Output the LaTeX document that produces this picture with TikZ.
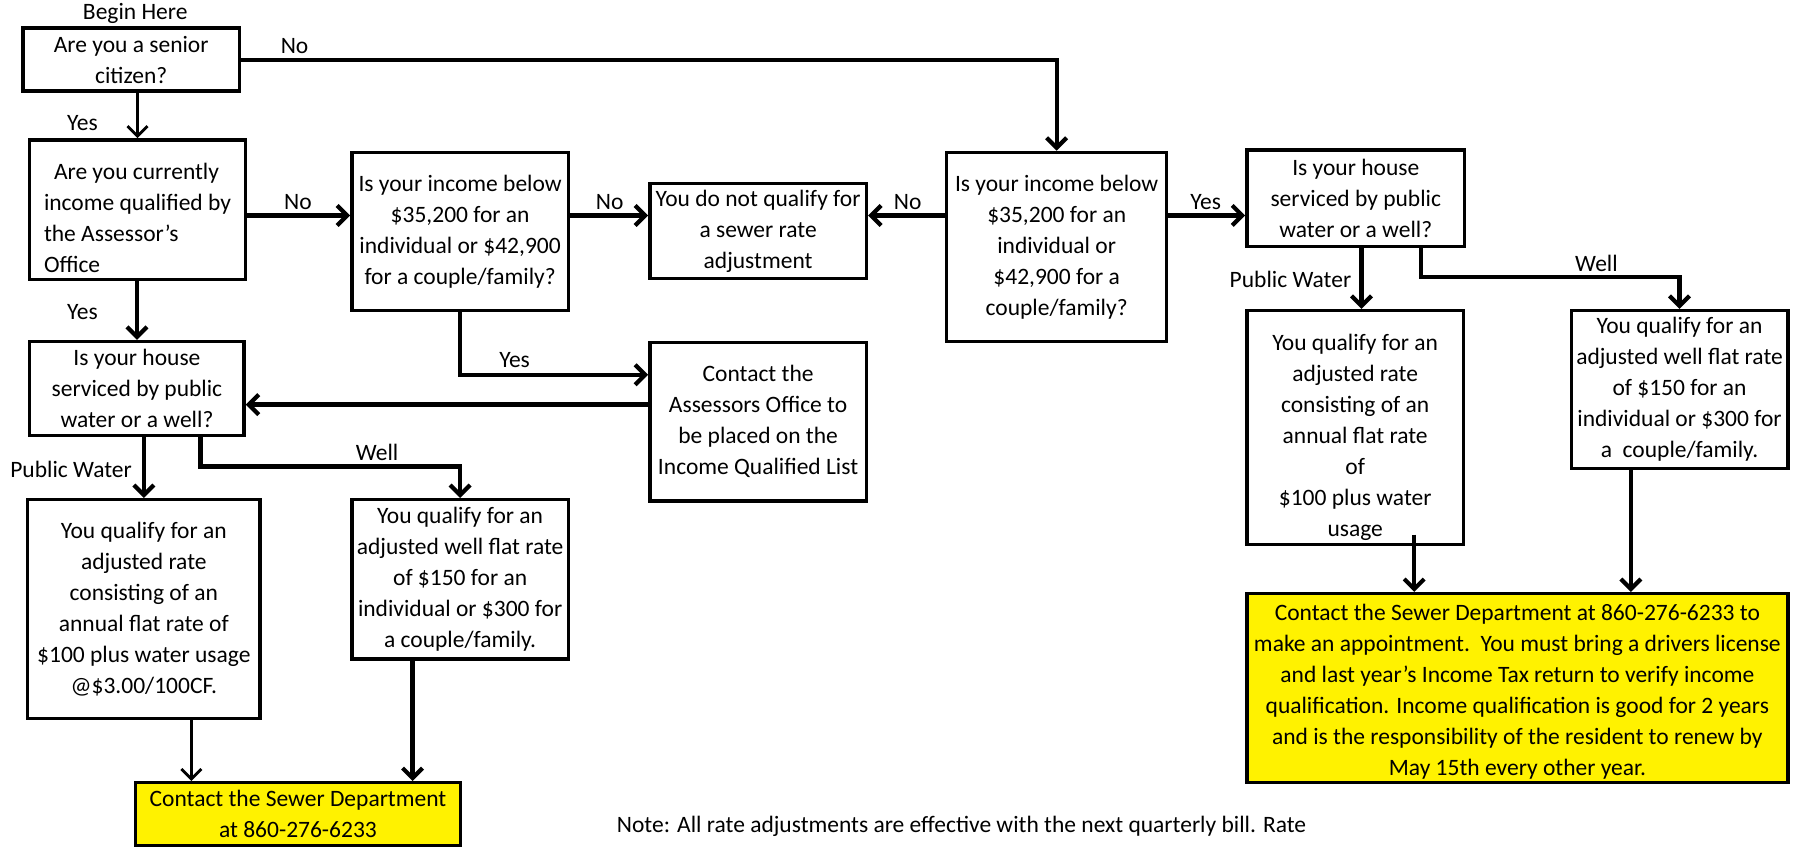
\documentclass[tikz,border=0pt]{standalone}
\usepackage{fontspec}
\setmainfont{Carlito}
\usetikzlibrary{arrows.meta,calc}

\newcommand{\topgap}[1]{\rule{0pt}{#1}}

\begin{document}
\begin{tikzpicture}[x=0.57302pt,y=-0.57302pt,
    every node/.style={font=\fontsize{11.75pt}{15.5pt}\selectfont,inner sep=0pt},
    box/.style={draw,line width=1.7pt,align=center},
    hl/.style={box,fill=yellow},
    sz/.style 2 args={minimum width=#1*0.57302pt,minimum height=#2*0.57302pt},
    link/.style={line width=2.1pt},
    arr/.style={link,-{Straight Barb[length=5pt,width=10pt]}},
    thinarr/.style={arr,line width=1.4pt}]

    \useasboundingbox (0,0) rectangle (1568,741);

    %==================== Senior branch (left) ====================
    \node (begin) at (118,12) {Begin Here};
    \node[box,sz={189}{55}] (senior) at (114.5,52) {Are you a senior\\citizen?};
    \node[box,sz={188}{122},align=left] (qualified) at (120,183)
      {\topgap{16pt}\hspace*{5pt}Are you currently\\income qualified by\\the Assessor’s\\Office};
    \node[box,sz={189}{138}] (incomeC) at (401.5,202)
      {Is your income below\\\$35,200 for an\\individual or \$42,900\\for a couple/family?};
    \node[box,sz={189}{83}] (noqual) at (661.5,201.5)
      {You do not qualify for\\a sewer rate\\adjustment};
    \node[box,sz={189}{138}] (contactA) at (661.5,368)
      {Contact the\\Assessors Office to\\be placed on the\\Income Qualified List};
    \node[box,sz={187}{82}] (houseL) at (119.5,339)
      {Is your house\\serviced by public\\water or a well?};
    \node[box,sz={203}{191}] (pubL) at (125.5,531.5)
      {You qualify for an\\adjusted rate\\consisting of an\\annual flat rate of\\\$100 plus water usage\\@\$3.00/100CF.};
    \node[box,sz={189}{139}] (wellL) at (401.5,505.5)
      {You qualify for an\\adjusted well flat rate\\of \$150 for an\\individual or \$300 for\\a couple/family.};
    \node[hl,sz={284}{55}] (contactS) at (260,710.5)
      {Contact the Sewer Department\\at 860-276-6233};

    %==================== Non-senior branch (right) ====================
    \node[box,sz={192}{165}] (incomeD) at (922,215.5)
      {Is your income below\\\$35,200 for an\\individual or\\\$42,900 for a\\couple/family?};
    \node[box,sz={190}{84}] (houseR) at (1183,173)
      {Is your house\\serviced by public\\water or a well?};
    \node[box,sz={189}{204}] (pubR) at (1182.5,373)
      {\topgap{18pt}You qualify for an\\adjusted rate\\consisting of an\\annual flat rate\\of\\\$100 plus water\\usage};
    \node[box,sz={189}{138}] (wellR) at (1465.5,340)
      {You qualify for an\\adjusted well flat rate\\of \$150 for an\\individual or \$300 for\\a\ \ couple/family.};
    \node[hl,sz={472}{165}] (bigY) at (1324,600.5)
      {\topgap{12pt}Contact the Sewer Department at 860-276-6233 to\\make an appointment.\ \ You must bring a drivers license\\and last year’s Income Tax return to verify income\\qualification. Income qualification is good for 2 years\\and is the responsibility of the resident to renew by\\May 15th every other year.};

    \node (note) at (839,721)
      {Note: All rate adjustments are effective with the next quarterly bill. Rate};

    % Rows of the connectors
    \coordinate (rowNo) at (0,188);
    \coordinate (rowYes) at (0,327);
    \coordinate (rowBack) at (0,353);
    \coordinate (rowWellL) at (0,407);
    \coordinate (rowWellR) at (0,242);

    % Connectors, left
    \draw[thinarr] (senior.south -| qualified.north) -- (qualified.north);
    \draw[link] (senior.east) -| ($(incomeD.north)+(0,-40)$) coordinate (c1);
    \draw[arr] (c1) -- (incomeD.north);
    \draw[arr] (qualified.east |- rowNo) -- (incomeC.west |- rowNo);
    \draw[arr] (incomeC.east |- rowNo) -- (noqual.west |- rowNo);
    \draw[arr] (incomeC.south) |- (contactA.west |- rowYes);
    \draw[arr] (contactA.west |- rowBack) -- (houseL.east |- rowBack);
    \draw[arr] (qualified.south -| houseL.north) -- (houseL.north);
    \draw[arr] (houseL.south -| pubL.north) -- (pubL.north);
    \draw[arr] ($(houseL.south)+(55.5,0)$) |- (rowWellL -| wellL.north) -- (wellL.north);
    \draw[thinarr] ($(pubL.south)+(41.5,0)$) coordinate (p1) -- (p1 |- contactS.north);
    \draw[arr] ($(wellL.south)+(-41.5,0)$) coordinate (p2) -- (p2 |- contactS.north);

    % Connectors, right
    \draw[arr] (incomeD.west |- rowNo) -- (noqual.east |- rowNo);
    \draw[arr] (incomeD.east |- rowNo) -- (houseR.west |- rowNo);
    \draw[arr] ($(houseR.south)+(5,0)$) coordinate (p3) -- (p3 |- pubR.north);
    \draw[arr] ($(houseR.south)+(57,0)$) |- (rowWellR -| wellR.north) -- (wellR.north);
    \draw[arr] ($(pubR.south)+(51.5,-10)$) coordinate (p4) -- (p4 |- bigY.north);
    \draw[arr] ($(wellR.south)+(-42.5,0)$) coordinate (p5) -- (p5 |- bigY.north);

    % Labels
    \foreach \n/\x/\y/\t in {lno1/257/40/No, lyes1/72/107/Yes, lno2/260/176/No,
        lno3/532/176/No, lno4/792/176/No, lyes2/1052/176/Yes, lyes3/72/272/Yes,
        lyes4/449/314/Yes, lpw1/62/410/Public Water, lwell1/329/395/Well,
        lpw2/1126/244/Public Water, lwell2/1393/230/Well} {
      \node (\n) at (\x,\y) {\t};
    }

\end{tikzpicture}
\end{document}
